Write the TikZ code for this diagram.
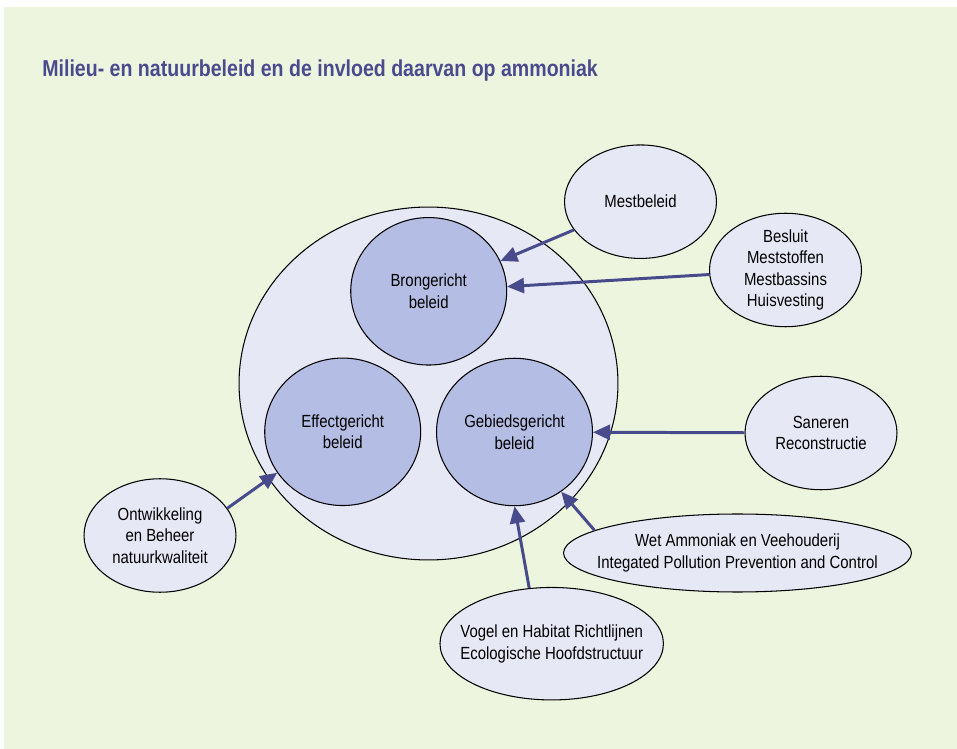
\documentclass[tikz,border=0pt]{standalone}
\usepackage{fontspec}
\setmainfont{Liberation Sans}[FakeStretch=0.85]
\usetikzlibrary{arrows.meta,shapes.geometric}

\definecolor{bgGreen}{HTML}{EEF5DE}
\definecolor{paleBlue}{HTML}{E6E8F6}
\definecolor{midBlue}{HTML}{B4BDE3}
\definecolor{arrowBlue}{HTML}{474B8C}
\definecolor{titleBlue}{HTML}{4A4B8E}

\begin{document}
\begin{tikzpicture}[x=0.02cm, y=-0.02cm,
  blob/.style={ellipse, draw=black, line width=0.6pt, fill=paleBlue,
    inner sep=0pt, align=center, font=\fontsize{10}{12.3}\selectfont},
  core/.style={blob, fill=midBlue, minimum width=3.12cm, minimum height=2.95cm},
  side/.style={blob, minimum width=3.04cm, minimum height=2.27cm},
  feed/.style={draw=arrowBlue, line width=1.7pt,
    -{Triangle[length=3.4mm, width=3mm]}}]
  \useasboundingbox (0,0) rectangle (957,749);
  \fill[bgGreen] (4,7) rectangle (957,749);

  \node[anchor=base west, inner sep=0pt, text=titleBlue,
    font=\bfseries\fontsize{13.1}{16}\selectfont] (title) at (42,76.7)
    {Milieu- en natuurbeleid en de invloed daarvan op ammoniak};

  % the three kinds of policy inside one ring
  \node[blob, minimum width=7.58cm, minimum height=7.06cm] (beleid) at (428.5,383.5) {};
  \node[core] (bron)   at (428.7,291.3) {Brongericht\\beleid};
  \node[core] (effect) at (342.7,431.8) {Effectgericht\\beleid};
  \node[core] (gebied) at (514.5,432)   {Gebiedsgericht\\beleid};

  % instruments around it
  \node[side] (mest)    at (640.5,201.7) {Mestbeleid};
  \node[side, inner ysep=-2pt] (besluit) at (785.5,270)
    {Besluit\\Meststoffen\\Mestbassins\\Huisvesting};
  \node[side] (saneren) at (821,433)     {Saneren\\Reconstructie};
  \node[side] (ontw)    at (160,535.5)   {Ontwikkeling\\en Beheer\\natuurkwaliteit};
  \node[blob, minimum width=6.96cm, minimum height=1.56cm, inner xsep=-1.3cm]
    (wet) at (737.5,553)
    {Wet Ammoniak en Veehouderij\\Integated Pollution Prevention and Control};
  \node[blob, minimum width=4.47cm, minimum height=2.25cm, inner xsep=-0.8cm]
    (vogel) at (551.7,643.7)
    {Vogel en Habitat Richtlijnen\\Ecologische Hoofdstructuur};

  \draw[feed] (mest) -- (bron);
  \draw[feed] (besluit) -- (bron);
  \draw[feed] (saneren) -- (gebied);
  \draw[feed] (wet.171) -- (gebied.-52);
  \draw[feed] (vogel.112) -- (gebied.south);
  \draw[feed] (ontw.22) -- (effect.212);
\end{tikzpicture}
\end{document}
